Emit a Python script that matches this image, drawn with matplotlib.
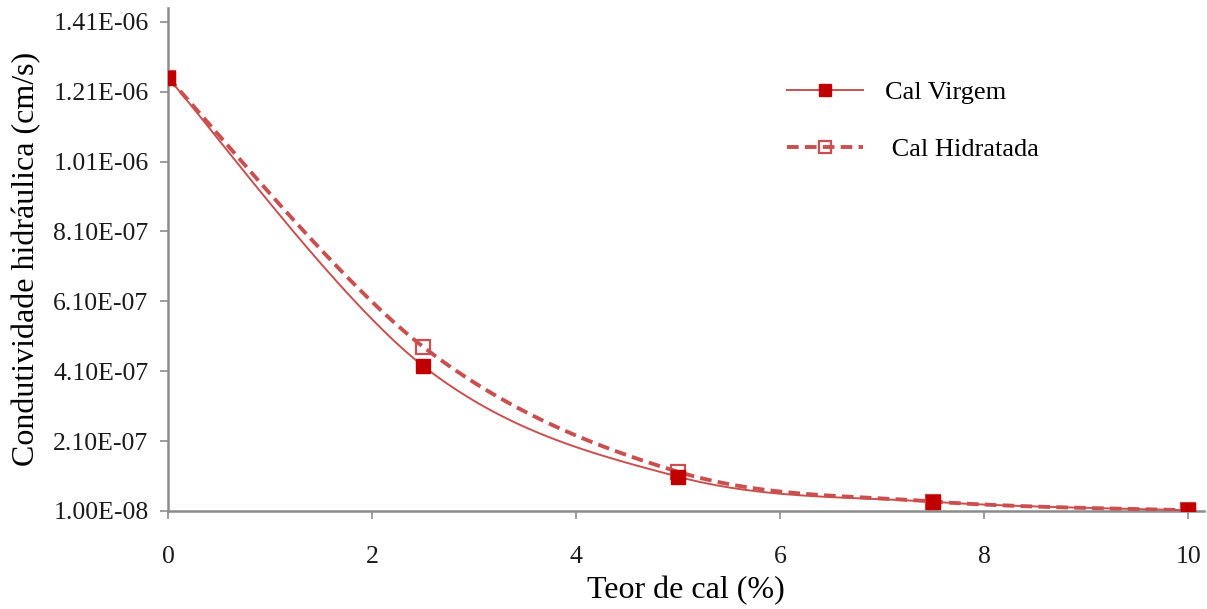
import numpy as np
import matplotlib
matplotlib.use("Agg")
import matplotlib.pyplot as plt

# Hydraulic conductivity vs lime content
teor = [0, 2.5, 5, 7.5, 10]
cal_virgem = [1.25e-06, 4.25e-07, 1.08e-07, 3.6e-08, 1.2e-08]
cal_hidratada = [1.25e-06, 4.80e-07, 1.22e-07, 3.7e-08, 1.2e-08]

y_ticks = [1.00e-08, 2.10e-07, 4.10e-07, 6.10e-07, 8.10e-07, 1.01e-06, 1.21e-06, 1.41e-06]
y_tick_labels = ["1.00E-08", "2.10E-07", "4.10E-07", "6.10E-07",
                 "8.10E-07", "1.01E-06", "1.21E-06", "1.41E-06"]
x_ticks = [0, 2, 4, 6, 8, 10]


def smooth_curve(xs, ys, n=60):
    # Bezier smoothing through every point (spreadsheet-style smoothed line)
    xs = np.asarray(xs, float)
    ys = np.asarray(ys, float)
    px = np.concatenate([[xs[0]], xs, [xs[-1]]])
    py = np.concatenate([[ys[0]], ys, [ys[-1]]])
    out_x, out_y = [], []
    t = np.linspace(0, 1, n)
    for i in range(1, len(px) - 2):
        p0 = np.array([px[i], py[i]])
        p3 = np.array([px[i + 1], py[i + 1]])
        c1 = p0 + (np.array([px[i + 1], py[i + 1]]) - np.array([px[i - 1], py[i - 1]])) / 6
        c2 = p3 - (np.array([px[i + 2], py[i + 2]]) - np.array([px[i], py[i]])) / 6
        b = ((1 - t) ** 3)[:, None] * p0 + (3 * (1 - t) ** 2 * t)[:, None] * c1 \
            + (3 * (1 - t) * t ** 2)[:, None] * c2 + (t ** 3)[:, None] * p3
        out_x.extend(b[:, 0])
        out_y.extend(b[:, 1])
    return out_x, out_y


plt.rcParams['font.family'] = ['Liberation Serif', 'DejaVu Serif']

fig = plt.figure(figsize=(12.07, 6.09), dpi=100)
ax = fig.add_axes([0.1392, 0.161, 0.858, 0.826])

line_red = '#C9504F'
mark_red = '#C00000'
dash = (0, (3, 1.6))

hx, hy = smooth_curve(teor, cal_hidratada)
ax.plot(hx, hy, color=line_red, linewidth=2.8, linestyle=dash, zorder=3)
ax.plot(teor, cal_hidratada, linestyle='none', marker='s', markersize=10,
        markerfacecolor='none', markeredgecolor=line_red, markeredgewidth=1.6, zorder=4)

sx, sy = smooth_curve(teor, cal_virgem)
ax.plot(sx, sy, color=line_red, linewidth=1.4, zorder=5)
ax.plot(teor, cal_virgem, linestyle='none', marker='s', markersize=10,
        markerfacecolor=mark_red, markeredgecolor=mark_red, zorder=6)

# legend entries
h1, = ax.plot([], [], color=line_red, linewidth=1.4, marker='s', markersize=9,
              markerfacecolor=mark_red, markeredgecolor=mark_red)
h2, = ax.plot([], [], color=line_red, linewidth=2.8, linestyle=dash, marker='s',
              markersize=9, markerfacecolor='none', markeredgecolor=line_red,
              markeredgewidth=1.6)
ax.legend([h1, h2], ['Cal Virgem', ' Cal Hidratada'], loc='upper left',
          bbox_to_anchor=(0.598, 0.855), frameon=False, fontsize=19,
          borderaxespad=0, borderpad=0,
          handlelength=2.85, handletextpad=0.85, labelspacing=1.25)

ax.set_xlim(0, 10.15)
ax.set_ylim(1.0e-08, 1.45e-06)
ax.set_xticks(x_ticks)
ax.set_yticks(y_ticks)
ax.set_yticklabels(y_tick_labels)

for side in ['top', 'right']:
    ax.spines[side].set_visible(False)
for side in ['left', 'bottom']:
    ax.spines[side].set_color('#8C8C8C')
    ax.spines[side].set_linewidth(1.8)
ax.tick_params(axis='both', colors='#8C8C8C', width=1.2, length=6,
               labelsize=18.5, labelcolor='#1A1A1A')
ax.tick_params(axis='x', pad=19)
ax.tick_params(axis='y', pad=8)

ax.set_xlabel('Teor de cal (%)', fontsize=23, labelpad=6)
ax.set_ylabel('Condutividade hidráulica (cm/s)', fontsize=23, labelpad=9)

plt.savefig('out.png', dpi=100)
plt.close()
